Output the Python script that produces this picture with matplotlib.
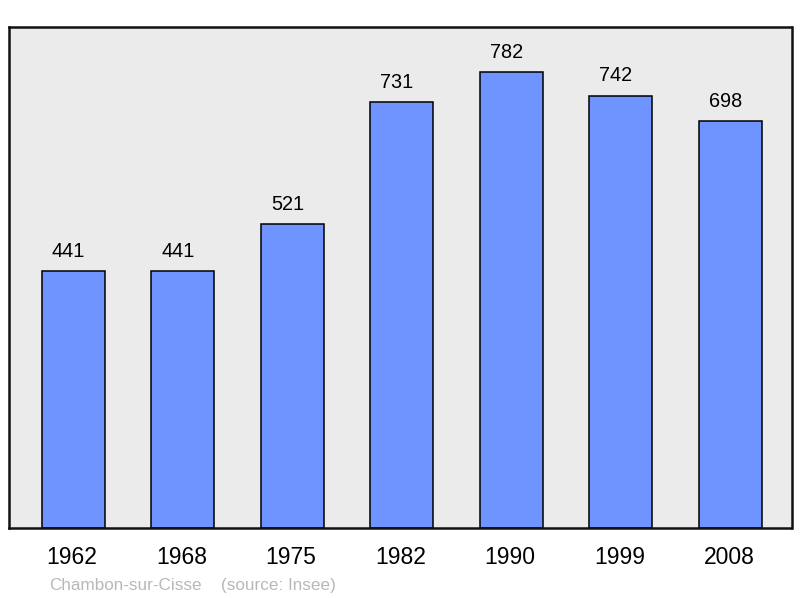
import matplotlib
matplotlib.use("Agg")
import matplotlib.pyplot as plt

years = ["1962", "1968", "1975", "1982", "1990", "1999", "2008"]
population = [441, 441, 521, 731, 782, 742, 698]
caption_place = "Chambon-sur-Cisse"
caption_source = "(source: Insee)"

plt.rcParams['font.family'] = ['Liberation Sans', 'DejaVu Sans']

W, H = 800, 598
fig = plt.figure(figsize=(W / 100, H / 100), dpi=100)
left, right, top, bottom = 8.5, 791.5, 27, 528
ax = fig.add_axes([left / W, 1 - bottom / H, (right - left) / W, (bottom - top) / H])
ax.set_facecolor("#ebebeb")

x = list(range(len(years)))
ax.bar(x, population, width=0.575, color="#7094ff", edgecolor="black", linewidth=1.1, zorder=2)
for xi, v in zip(x, population):
    ax.annotate(str(v), (xi, v), xytext=(-3.5, 10.3), textcoords="offset points",
                ha="center", va="baseline", fontsize=14.3, color="black")

ax.set_xlim(-0.594, 6.56)
ax.set_ylim(0, 860)
ax.set_yticks([])
ax.set_xticks([])
for xi, yr in zip(x, years):
    ax.annotate(yr, (xi, 1 - 564 / H), xycoords=("data", "figure fraction"),
                xytext=(-1, 0), textcoords="offset points",
                ha="center", va="baseline", fontsize=16.5, color="black", annotation_clip=False)
for s in ax.spines.values():
    s.set_linewidth(1.8)
    s.set_color("#111111")

fig.text(49 / W, 1 - 590 / H, caption_place, fontsize=12.3, color="#b8b8b8", ha="left", va="baseline")
fig.text(221 / W, 1 - 590 / H, caption_source, fontsize=12.3, color="#b8b8b8", ha="left", va="baseline")

fig.savefig("out.png", dpi=100, facecolor="white")
